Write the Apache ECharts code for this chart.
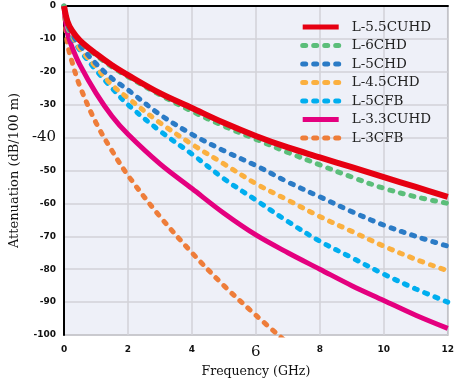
<!DOCTYPE html>
<html><head><meta charset="utf-8">
<script src="https://cdn.jsdelivr.net/npm/echarts@6/dist/echarts.min.js"></script>
<style>html,body{margin:0;padding:0;background:#fff}#c{width:457px;height:384px}</style>
</head><body><div id="c"></div>
<script>
const freq = [0, 0.1, 0.25, 0.5, 1, 1.5, 2, 3, 4, 5, 6, 7, 8, 9, 10, 11, 12];
const l55cuhd = [0, -4.5, -7.5, -10.5, -14.5, -18, -21, -26.5, -31, -35.5, -39.5, -43, -46, -49, -52, -55, -58];
const l6chd   = [0, -4.5, -7.5, -10.8, -15, -18.5, -21.5, -27, -32, -36.5, -40.5, -44.5, -48.3, -52, -55.4, -58, -60];
const l5chd   = [0, -5.5, -8.5, -12, -17.5, -22, -25.5, -33, -39, -44, -48.5, -53.5, -58, -62.5, -66.6, -70, -73];
const l45chd  = [0, -6, -9, -13, -18.5, -24, -28, -35.5, -42, -48, -54, -59, -64, -68.5, -73, -77, -80.5];
const l5cfb   = [0, -6, -9.5, -13.5, -19.5, -25, -30, -38, -45, -52.5, -59, -65.5, -71.5, -76.5, -81.5, -86, -90];
const l33cuhd = [0, -8, -12.5, -18, -26.5, -33.5, -39, -48, -55.5, -63, -69.6, -75, -80, -85, -89.5, -94, -98];
const l3cfb   = [0, -11, -17, -24.5, -35.5, -44, -51.5, -64, -75, -85, -94, -102.5, null, null, null, null, null];
const names = ['L-5.5CUHD', 'L-6CHD', 'L-5CHD', 'L-4.5CHD', 'L-5CFB', 'L-3.3CUHD', 'L-3CFB'];
const xTicks = [0, 2, 4, 6, 8, 10, 12];
const yTicks = [0, -10, -20, -30, -40, -50, -60, -70, -80, -90, -100];

const pts = arr => freq.map((f, i) => [f, arr[i]]).filter(p => p[1] !== null);
const dashed = (name, arr, color) => ({
  name, type: 'line', data: pts(arr), smooth: 0.35, symbol: 'none',
  lineStyle: { color, width: 5, type: [3, 8], cap: 'round' }, itemStyle: { color }
});
const solid = (name, arr, color, w) => ({
  name, type: 'line', data: pts(arr), smooth: 0.35, symbol: 'none',
  lineStyle: { color, width: w }, itemStyle: { color }
});

const chart = echarts.init(document.getElementById('c'), null, { renderer: 'canvas' });
chart.setOption({
  animation: false,
  grid: { left: 63, right: 7, top: 6, bottom: 49, show: true, backgroundColor: '#EEF0F8', borderColor: '#999', borderWidth: 1.5 },
  legend: {
    data: names, orient: 'vertical', right: 21, top: 15,
    itemWidth: 36, itemHeight: 14, itemGap: 4.5,
    itemStyle: { opacity: 0 },
    lineStyle: { width: 5 },
    textStyle: { fontFamily: 'DejaVu Serif', fontSize: 13.5, color: '#222', padding: [0, 0, 0, 8] }
  },
  xAxis: [{
    type: 'value', min: 0, max: 12, interval: 2,
    name: 'Frequency (GHz)', nameLocation: 'middle', nameGap: 28,
    nameTextStyle: { fontFamily: 'DejaVu Serif', fontSize: 12.5, color: '#111' },
    axisLine: { lineStyle: { color: '#555', width: 2 } },
    axisTick: { show: false },
    splitLine: { lineStyle: { color: '#D2D2D8', width: 1.5 } },
    axisLabel: {
      margin: 10,
      formatter: v => xTicks.includes(v) ? (v === 6 ? '{big|6}' : '' + v) : '',
      fontFamily: 'DejaVu Sans', fontWeight: 'bold', fontSize: 9, color: '#111',
      rich: { big: { fontFamily: 'DejaVu Serif', fontSize: 15, fontWeight: 'normal', color: '#111' } }
    }
  }, {
    type: 'value', min: 0, max: 12, position: 'top',
    axisLine: { show: true, onZero: false, lineStyle: { color: '#000', width: 2 } },
    axisTick: { show: false }, axisLabel: { show: false }, splitLine: { show: false }
  }],
  yAxis: {
    type: 'value', min: -100, max: 0, interval: 10,
    name: 'Attenuation (dB/100 m)', nameLocation: 'middle', nameGap: 40,
    nameTextStyle: { fontFamily: 'DejaVu Serif', fontSize: 13, color: '#111' },
    axisLine: { show: true, lineStyle: { color: '#000', width: 2 } },
    axisTick: { show: false },
    splitLine: { lineStyle: { color: '#D2D2D8', width: 1.5 } },
    axisLabel: {
      margin: 8,
      formatter: v => yTicks.includes(v) ? (v === -40 ? '{big|-40}' : '' + v) : '',
      fontFamily: 'DejaVu Sans', fontWeight: 'bold', fontSize: 9, color: '#111',
      rich: { big: { fontFamily: 'DejaVu Serif', fontSize: 15, fontWeight: 'normal', color: '#111' } }
    }
  },
  series: [
    dashed('L-3CFB', l3cfb, '#EE7D3A'),
    solid('L-3.3CUHD', l33cuhd, '#E4007F', 5),
    dashed('L-5CFB', l5cfb, '#00AEEF'),
    dashed('L-4.5CHD', l45chd, '#FBB040'),
    dashed('L-5CHD', l5chd, '#2B7BC6'),
    dashed('L-6CHD', l6chd, '#5BBE7A'),
    solid('L-5.5CUHD', l55cuhd, '#E60012', 6)
  ]
});
</script></body></html>
